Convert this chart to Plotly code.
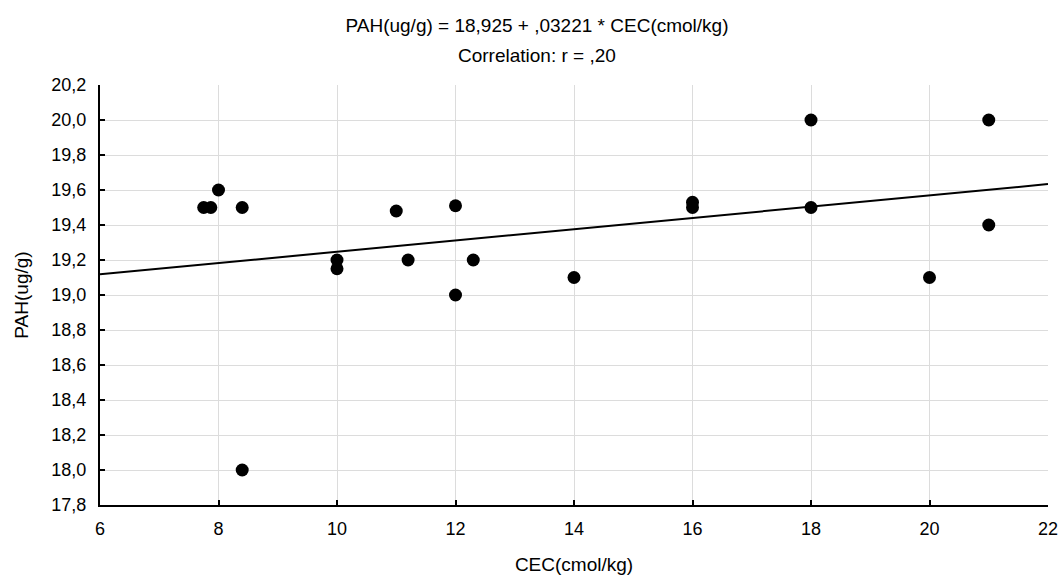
import plotly.graph_objects as go

# Data
cec = [7.75, 7.87, 8.0, 8.4, 8.4, 10.0, 10.0, 11.0, 11.2, 12.0, 12.0, 12.3,
       14.0, 16.0, 16.0, 18.0, 18.0, 20.0, 21.0, 21.0]
pah = [19.50, 19.50, 19.60, 19.50, 18.00, 19.20, 19.15, 19.48, 19.20, 19.51, 19.00, 19.20,
       19.10, 19.53, 19.50, 20.00, 19.50, 19.10, 20.00, 19.40]

intercept = 18.925
slope = 0.03221
line_x = [6, 22]
line_y = [intercept + slope * v for v in line_x]

x_ticks = [6, 8, 10, 12, 14, 16, 18, 20, 22]
y_ticks = [17.8, 18.0, 18.2, 18.4, 18.6, 18.8, 19.0, 19.2, 19.4, 19.6, 19.8, 20.0, 20.2]
y_tick_labels = [f"{v:.1f}".replace(".", ",") for v in y_ticks]

title_line1 = "PAH(ug/g) = 18,925 + ,03221 * CEC(cmol/kg)"
title_line2 = "Correlation: r = ,20"

FONT = "Liberation Sans, Arial, sans-serif"

fig = go.Figure()
fig.add_trace(go.Scatter(x=line_x, y=line_y, mode="lines",
                         line=dict(color="black", width=2), showlegend=False,
                         hoverinfo="skip"))
fig.add_trace(go.Scatter(x=cec, y=pah, mode="markers",
                         marker=dict(color="black", size=13), showlegend=False))

fig.update_layout(
    width=1062, height=578,
    paper_bgcolor="white", plot_bgcolor="white",
    margin=dict(l=100, r=14, t=85, b=73, autoexpand=False),
    font=dict(family=FONT, size=18, color="black"),
    title=dict(text=title_line1, x=537 / 1062, xref="container", xanchor="center",
               y=1 - 25 / 578, yref="container", yanchor="middle",
               font=dict(family=FONT, size=19, color="black")),
    annotations=[dict(text=title_line2, x=(537 - 100) / 948, xref="paper",
                      y=(505 - 55) / 420, yref="paper", showarrow=False,
                      xanchor="center", yanchor="middle",
                      font=dict(family=FONT, size=19, color="black"))],
)

fig.update_xaxes(
    range=[6, 22], tickvals=x_ticks, ticktext=[str(v) for v in x_ticks],
    showline=True, linecolor="black", linewidth=2, mirror=False,
    ticks="inside", ticklen=5, tickwidth=2, tickcolor="black",
    showgrid=True, gridcolor="#dcdcdc", gridwidth=1, zeroline=False,
    ticklabelstandoff=6,
    title=dict(text="CEC(cmol/kg)", standoff=20, font=dict(size=19)),
)
fig.update_yaxes(
    range=[17.8, 20.2], tickvals=y_ticks, ticktext=y_tick_labels,
    showline=True, linecolor="black", linewidth=2, mirror=False,
    ticks="inside", ticklen=5, tickwidth=2, tickcolor="black",
    showgrid=True, gridcolor="#dcdcdc", gridwidth=1, zeroline=False,
    ticklabelstandoff=8,
    title=dict(text="PAH(ug/g)", standoff=18, font=dict(size=19)),
)

fig.write_html("out.html", config={"displayModeBar": False},
               post_script="document.body.style.margin='0';document.body.style.overflow='hidden';")
